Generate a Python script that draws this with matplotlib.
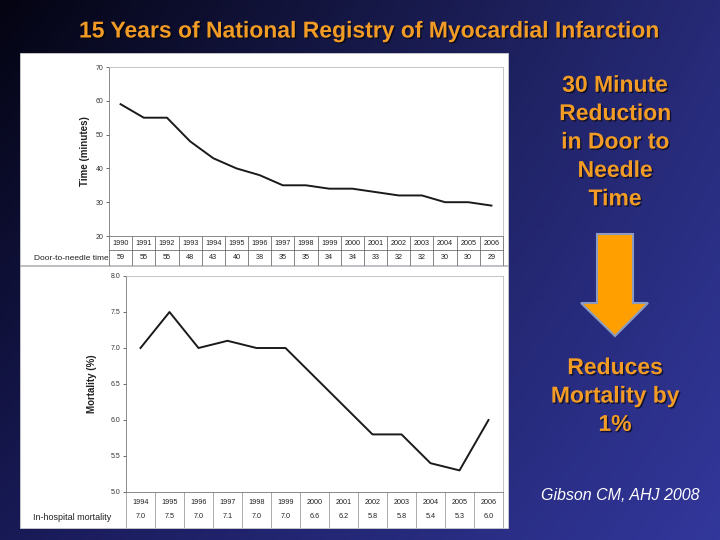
import numpy as np
import matplotlib
matplotlib.use("Agg")
import matplotlib.pyplot as plt
import matplotlib.patches as mpatches
import matplotlib.patheffects as pe

plt.rcParams['font.family'] = ['Liberation Sans', 'DejaVu Sans']

# data
dtn_years = ['1990', '1991', '1992', '1993', '1994', '1995', '1996', '1997', '1998',
             '1999', '2000', '2001', '2002', '2003', '2004', '2005', '2006']
dtn_minutes = [59, 55, 55, 48, 43, 40, 38, 35, 35, 34, 34, 33, 32, 32, 30, 30, 29]

mort_years = ['1994', '1995', '1996', '1997', '1998', '1999', '2000',
              '2001', '2002', '2003', '2004', '2005', '2006']
mort_pct = [7.0, 7.5, 7.0, 7.1, 7.0, 7.0, 6.6, 6.2, 5.8, 5.8, 5.4, 5.3, 6.0]

title = "15 Years of National Registry of Myocardial Infarction"
side_top = "30 Minute\nReduction\nin Door to\nNeedle\nTime"
side_bottom = "Reduces\nMortality by\n1%"
citation = "Gibson CM, AHJ 2008"

orange = '#f29c26'

fig = plt.figure(figsize=(7.2, 5.4), dpi=100)

# background gradient (slide)
bg = fig.add_axes([0, 0, 1, 1])
tl = np.array([4, 4, 18]) / 255
tr = np.array([38, 42, 118]) / 255
bl = np.array([24, 26, 86]) / 255
br = np.array([50, 55, 155]) / 255
xx, yy = np.meshgrid(np.linspace(0, 1, 200), np.linspace(0, 1, 150))
xx = xx[..., None]
yy = yy[..., None]
grad = (tl * (1 - xx) * (1 - yy) + tr * xx * (1 - yy) + bl * (1 - xx) * yy + br * xx * yy)
bg.imshow(grad, extent=[0, 720, 540, 0], aspect='auto')
bg.set_xlim(0, 720)
bg.set_ylim(540, 0)
bg.axis('off')

# white panels for the pasted charts
bg.add_patch(mpatches.Rectangle((20, 53), 488, 212, facecolor='white', edgecolor='#cccccc', lw=0.6))
bg.add_patch(mpatches.Rectangle((20, 266), 488, 262, facecolor='white', edgecolor='#cccccc', lw=0.6))

shadow = [pe.withSimplePatchShadow(offset=(1, -1), shadow_rgbFace='black', alpha=0.6)]
bg.text(368, 31, title, color=orange, fontsize=16.5, fontweight='bold', ha='center', va='center',
        path_effects=shadow)
bg.text(615, 142, side_top, color=orange, fontsize=16.5, fontweight='bold', ha='center', va='center',
        linespacing=1.3, path_effects=shadow)
bg.text(615, 396, side_bottom, color=orange, fontsize=16.5, fontweight='bold', ha='center', va='center',
        linespacing=1.3, path_effects=shadow)
bg.text(620, 496, citation, color='white', fontsize=11.5, style='italic', ha='center', va='center')

# down arrow
arrow = mpatches.Polygon([(597, 234), (633, 234), (633, 303), (648, 303), (615, 336), (581, 303), (597, 303)],
                         closed=True, facecolor='#ffa000', edgecolor='#8c9cc0', lw=1.5)
bg.add_patch(arrow)

tick_color = '#333333'


def style_axes(ax):
    for s in ['top', 'right']:
        ax.spines[s].set_color('#bbbbbb')
        ax.spines[s].set_linewidth(0.6)
    ax.spines['left'].set_color('#777777')
    ax.spines['left'].set_linewidth(0.6)
    ax.spines['bottom'].set_color('#777777')
    ax.spines['bottom'].set_linewidth(0.6)
    ax.tick_params(axis='y', labelsize=5, colors=tick_color, length=2, width=0.5, pad=2)
    ax.tick_params(axis='x', bottom=False, labelbottom=False)


# top chart: door-to-needle time
ax1 = fig.add_axes([109 / 720, 1 - 236 / 540, 394 / 720, 169 / 540])
x1 = np.arange(len(dtn_years))
ax1.plot(x1, dtn_minutes, color='#1a1a1a', lw=1.4)
ax1.set_xlim(-0.5, len(dtn_years) - 0.5)
ax1.set_ylim(20, 70)
ax1.set_yticks([20, 30, 40, 50, 60, 70])
ax1.set_ylabel('Time (minutes)', fontsize=7, fontweight='bold', color='#222222', labelpad=4)
style_axes(ax1)

tr1 = ax1.get_xaxis_transform()
r1 = -14 / 169
r2 = -29 / 169
for k in range(len(dtn_years) + 1):
    ax1.plot([k - 0.5, k - 0.5], [0, r2], transform=tr1, color='#555555', lw=0.5, clip_on=False)
ax1.plot([-0.5, len(dtn_years) - 0.5], [r1, r1], transform=tr1, color='#555555', lw=0.5, clip_on=False)
for i, (yr, v) in enumerate(zip(dtn_years, dtn_minutes)):
    ax1.text(i, r1 / 2, yr, transform=tr1, fontsize=5.2, ha='center', va='center', color='#222222')
    ax1.text(i, (r1 + r2) / 2, str(v), transform=tr1, fontsize=5.2, ha='center', va='center', color='#222222')
fig.text(34 / 720, 1 - 258 / 540, 'Door-to-needle time', fontsize=6, ha='left', va='center', color='#222222')

# bottom chart: in-hospital mortality
ax2 = fig.add_axes([126 / 720, 1 - 492 / 540, 377 / 720, 216 / 540])
x2 = np.arange(len(mort_years))
ax2.plot(x2, mort_pct, color='#1a1a1a', lw=1.4)
ax2.set_xlim(-0.5, len(mort_years) - 0.5)
ax2.set_ylim(5.0, 8.0)
ax2.set_yticks(np.arange(5.0, 8.01, 0.5))
ax2.set_yticklabels(['%.1f' % t for t in np.arange(5.0, 8.01, 0.5)])
ax2.set_ylabel('Mortality (%)', fontsize=7, fontweight='bold', color='#222222', labelpad=10)
style_axes(ax2)

tr2 = ax2.get_xaxis_transform()
b2 = -35 / 216
for k in range(len(mort_years) + 1):
    ax2.plot([k - 0.5, k - 0.5], [0, b2], transform=tr2, color='#888888', lw=0.5, clip_on=False)
for i, (yr, v) in enumerate(zip(mort_years, mort_pct)):
    ax2.text(i, -11 / 216, yr, transform=tr2, fontsize=5.2, ha='center', va='center', color='#222222')
    ax2.text(i, -25 / 216, '%.1f' % v, transform=tr2, fontsize=5.2, ha='center', va='center', color='#222222')
fig.text(33 / 720, 1 - 517 / 540, 'In-hospital mortality', fontsize=6.5, ha='left', va='center', color='#222222')

fig.savefig('out.png', dpi=100)
